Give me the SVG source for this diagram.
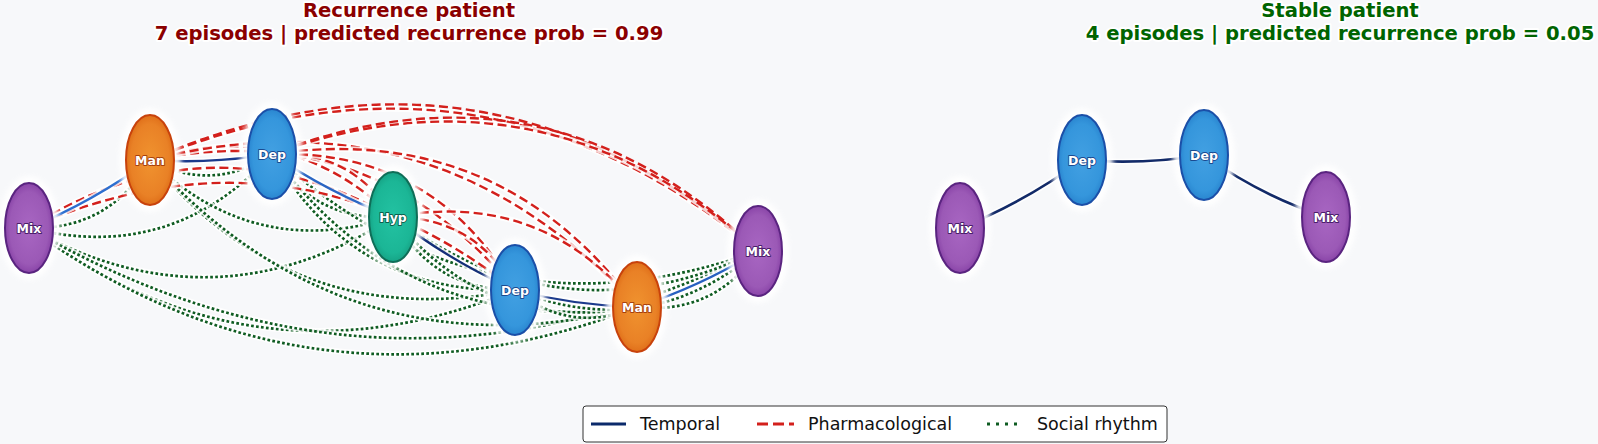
<svg xmlns="http://www.w3.org/2000/svg" xmlns:xlink="http://www.w3.org/1999/xlink" width="1598" height="444" viewBox="0 0 1598 444">
<style>
.h{fill:none;stroke:#fff;stroke-width:6;stroke-opacity:.8;stroke-linecap:round}
.t{fill:none;stroke:#1b3a8c;stroke-width:2.3}
.t2{fill:none;stroke:#122a68;stroke-width:2.6}
.p{fill:none;stroke:#d3201c;stroke-width:2.4;stroke-dasharray:9 4.5}
.s{fill:none;stroke:#0f5c22;stroke-width:2.7;stroke-dasharray:2.7 2.3}
.glow{fill:#fff;opacity:.9;filter:url(#blur)}
.lbl{font-family:"DejaVu Sans",sans-serif;font-weight:bold;font-size:12.5px;fill:#fff;text-anchor:middle;paint-order:stroke;stroke-width:1.8;stroke-linejoin:round}
.ttl{font-family:"DejaVu Sans",sans-serif;font-weight:bold;font-size:19.6px;text-anchor:middle;paint-order:stroke;stroke:#fff;stroke-width:4;stroke-linejoin:round}
.leg{font-family:"DejaVu Sans",sans-serif;font-size:17.5px;fill:#111}
</style>
<defs>
<filter id="blur" x="-30%" y="-30%" width="160%" height="160%"><feGaussianBlur stdDeviation="2.5"/></filter>
<radialGradient id="gMix" cx="50%" cy="50%" r="50%"><stop offset="0" stop-color="#a866c2"/><stop offset=".8" stop-color="#9b59b6"/><stop offset="1" stop-color="#8a45a8"/></radialGradient>
<radialGradient id="gMan" cx="50%" cy="50%" r="50%"><stop offset="0" stop-color="#f0932f"/><stop offset=".8" stop-color="#e98126"/><stop offset="1" stop-color="#e0701a"/></radialGradient>
<radialGradient id="gDep" cx="50%" cy="50%" r="50%"><stop offset="0" stop-color="#42a0e2"/><stop offset=".8" stop-color="#3596dc"/><stop offset="1" stop-color="#2a86d0"/></radialGradient>
<radialGradient id="gHyp" cx="50%" cy="50%" r="50%"><stop offset="0" stop-color="#23c2a2"/><stop offset=".8" stop-color="#1bb696"/><stop offset="1" stop-color="#16a486"/></radialGradient>
<!-- social rhythm -->
<path id="sAB" d="M29 228Q109.9 230.3 150 160"/>
<path id="sAC" d="M29 228Q172.7 263.9 272 154"/>
<path id="sAD" d="M29 228Q214.3 331.7 393 217"/>
<path id="sAE" d="M29 228Q255 396 515 290"/>
<path id="sAF" d="M29 228Q311.7 431.7 637 307"/>
<path id="sAG" d="M29 228Q387.3 436.3 758 251"/>
<path id="sBC" d="M150 160Q212.8 193.6 272 154"/>
<path id="sBD" d="M150 160Q254.4 261.4 393 217"/>
<path id="sBE" d="M150 160Q293.5 334.5 515 290"/>
<path id="sBF" d="M150 160Q349.4 379.6 637 307"/>
<path id="sCD" d="M272 154Q313.6 221.8 393 217"/>
<path id="sCE" d="M272 154Q352.7 294.9 515 290"/>
<path id="sCF" d="M272 154Q408.6 340 637 307"/>
<path id="sCG" d="M272 154Q485.9 348.3 758 251"/>
<path id="sDE" d="M393 217Q432.1 290.1 515 290"/>
<path id="sDF" d="M393 217Q488 335.2 637 307"/>
<path id="sDG" d="M393 217Q565.3 343.5 758 251"/>
<path id="sEF" d="M515 290Q570.9 335.1 637 307"/>
<path id="sEG" d="M515 290Q648.2 343.4 758 251"/>
<path id="sFG" d="M637 307Q714.3 315.3 758 251"/>
<!-- pharmacological -->
<path id="pAD" d="M29 228Q207.7 113.3 393 217"/>
<path id="pAE" d="M29 228Q290.6 113.2 515 290"/>
<path id="pBD" d="M150 160Q288.6 115.6 393 217"/>
<path id="pBE" d="M150 160Q371.5 115.5 515 290"/>
<path id="pBF" d="M150 160Q437.6 87.4 637 307"/>
<path id="pBG" d="M150 160Q481.3 23.1 758 251"/>
<path id="pBG2" d="M150 160Q482.7 14 758 251"/>
<path id="pCD" d="M272 154Q351.4 149.2 393 217"/>
<path id="pCE" d="M272 154Q434.3 149.1 515 290"/>
<path id="pCF" d="M272 154Q500.4 121 637 307"/>
<path id="pCG" d="M272 154Q544.1 56.7 758 251"/>
<path id="pCG2" d="M272 154Q545.8 48 758 251"/>
<path id="pDE" d="M393 217Q475.9 216.9 515 290"/>
<path id="pDF" d="M393 217Q542 188.8 637 307"/>
<!-- temporal -->
<path id="tAB" d="M29 228Q93.6 201.3 150 160"/>
<path id="tBC" d="M150 160Q211.4 164.3 272 154"/>
<path id="tCD" d="M272 154Q328.7 192.8 393 217"/>
<path id="tDE" d="M393 217Q449.6 260.8 515 290"/>
<path id="tEF" d="M515 290Q575 305.8 637 307"/>
<path id="tFG" d="M637 307Q700.9 286.3 758 251"/>
<path id="tR1" d="M960 228Q1025 202 1082 160"/>
<path id="tR2" d="M1082 160Q1143 165 1204 155"/>
<path id="tR3" d="M1204 155Q1261 196 1326 217"/>
</defs>
<rect width="1598" height="444" fill="#f7f8fa"/>

<g id="titles">
<text class="ttl" fill="#8b0000" x="409" y="17">Recurrence patient</text>
<text class="ttl" fill="#8b0000" x="409" y="40">7 episodes | predicted recurrence prob = 0.99</text>
<text class="ttl" fill="#006400" x="1340" y="17">Stable patient</text>
<text class="ttl" fill="#006400" x="1340" y="40">4 episodes | predicted recurrence prob = 0.05</text>
</g>

<g id="connectors">
<use href="#sAB" class="h"/><use href="#sAB" class="s"/>
<use href="#sAC" class="h"/><use href="#sAC" class="s"/>
<use href="#sAD" class="h"/><use href="#sAD" class="s"/>
<use href="#sAE" class="h"/><use href="#sAE" class="s"/>
<use href="#sAF" class="h"/><use href="#sAF" class="s"/>
<use href="#sAG" class="h"/><use href="#sAG" class="s"/>
<use href="#sBC" class="h"/><use href="#sBC" class="s"/>
<use href="#sBD" class="h"/><use href="#sBD" class="s"/>
<use href="#sBE" class="h"/><use href="#sBE" class="s"/>
<use href="#sBF" class="h"/><use href="#sBF" class="s"/>
<use href="#sCD" class="h"/><use href="#sCD" class="s"/>
<use href="#sCE" class="h"/><use href="#sCE" class="s"/>
<use href="#sCF" class="h"/><use href="#sCF" class="s"/>
<use href="#sCG" class="h"/><use href="#sCG" class="s"/>
<use href="#sDE" class="h"/><use href="#sDE" class="s"/>
<use href="#sDF" class="h"/><use href="#sDF" class="s"/>
<use href="#sDG" class="h"/><use href="#sDG" class="s"/>
<use href="#sEF" class="h"/><use href="#sEF" class="s"/>
<use href="#sEG" class="h"/><use href="#sEG" class="s"/>
<use href="#sFG" class="h"/><use href="#sFG" class="s"/>
<use href="#pAD" class="h"/><use href="#pAD" class="p"/>
<use href="#pAE" class="h"/><use href="#pAE" class="p"/>
<use href="#pBD" class="h"/><use href="#pBD" class="p"/>
<use href="#pBE" class="h"/><use href="#pBE" class="p"/>
<use href="#pBF" class="h"/><use href="#pBF" class="p"/>
<use href="#pBG" class="h"/><use href="#pBG" class="p"/>
<use href="#pBG2" class="p"/>
<use href="#pCD" class="h"/><use href="#pCD" class="p"/>
<use href="#pCE" class="h"/><use href="#pCE" class="p"/>
<use href="#pCF" class="h"/><use href="#pCF" class="p"/>
<use href="#pCG" class="h"/><use href="#pCG" class="p"/>
<use href="#pCG2" class="p"/>
<use href="#pDE" class="h"/><use href="#pDE" class="p"/>
<use href="#pDF" class="h"/><use href="#pDF" class="p"/>
<use href="#tAB" class="h"/><use href="#tAB" class="t" style="stroke:#2d6fd0"/>
<use href="#tBC" class="h"/><use href="#tBC" class="t"/>
<use href="#tCD" class="h"/><use href="#tCD" class="t" style="stroke:#2a66c4"/>
<use href="#tDE" class="h"/><use href="#tDE" class="t" style="stroke:#142f78"/>
<use href="#tEF" class="h"/><use href="#tEF" class="t"/>
<use href="#tFG" class="h"/><use href="#tFG" class="t" style="stroke:#2760c0"/>
<use href="#tR1" class="h"/><use href="#tR1" class="t2"/>
<use href="#tR2" class="h"/><use href="#tR2" class="t2"/>
<use href="#tR3" class="h"/><use href="#tR3" class="t2"/>
</g>

<g id="n-mix1"><ellipse class="glow" cx="29" cy="228" rx="31" ry="52"/><ellipse cx="29" cy="228" rx="24" ry="45" fill="url(#gMix)" stroke="#5a2480" stroke-width="2"/><text class="lbl" x="29" y="233" stroke="#4a1d6a">Mix</text></g>
<g id="n-man1"><ellipse class="glow" cx="150" cy="160" rx="31" ry="52"/><ellipse cx="150" cy="160" rx="24" ry="45" fill="url(#gMan)" stroke="#c8420c" stroke-width="2"/><text class="lbl" x="150" y="165" stroke="#a8400c">Man</text></g>
<g id="n-dep1"><ellipse class="glow" cx="272" cy="154" rx="31" ry="52"/><ellipse cx="272" cy="154" rx="24" ry="45" fill="url(#gDep)" stroke="#1b4fa8" stroke-width="2"/><text class="lbl" x="272" y="159" stroke="#1a4a90">Dep</text></g>
<g id="n-hyp"><ellipse class="glow" cx="393" cy="217" rx="31" ry="52"/><ellipse cx="393" cy="217" rx="24" ry="45" fill="url(#gHyp)" stroke="#0f6e58" stroke-width="2"/><text class="lbl" x="393" y="222" stroke="#0d5e4c">Hyp</text></g>
<g id="n-dep2"><ellipse class="glow" cx="515" cy="290" rx="31" ry="52"/><ellipse cx="515" cy="290" rx="24" ry="45" fill="url(#gDep)" stroke="#1b4fa8" stroke-width="2"/><text class="lbl" x="515" y="295" stroke="#1a4a90">Dep</text></g>
<g id="n-man2"><ellipse class="glow" cx="637" cy="307" rx="31" ry="52"/><ellipse cx="637" cy="307" rx="24" ry="45" fill="url(#gMan)" stroke="#c8420c" stroke-width="2"/><text class="lbl" x="637" y="312" stroke="#a8400c">Man</text></g>
<g id="n-mix2"><ellipse class="glow" cx="758" cy="251" rx="31" ry="52"/><ellipse cx="758" cy="251" rx="24" ry="45" fill="url(#gMix)" stroke="#5a2480" stroke-width="2"/><text class="lbl" x="758" y="256" stroke="#4a1d6a">Mix</text></g>

<g id="n-mix3"><ellipse class="glow" cx="960" cy="228" rx="31" ry="52"/><ellipse cx="960" cy="228" rx="24" ry="45" fill="url(#gMix)" stroke="#5a2480" stroke-width="2"/><text class="lbl" x="960" y="233" stroke="#4a1d6a">Mix</text></g>
<g id="n-dep3"><ellipse class="glow" cx="1082" cy="160" rx="31" ry="52"/><ellipse cx="1082" cy="160" rx="24" ry="45" fill="url(#gDep)" stroke="#1b4fa8" stroke-width="2"/><text class="lbl" x="1082" y="165" stroke="#1a4a90">Dep</text></g>
<g id="n-dep4"><ellipse class="glow" cx="1204" cy="155" rx="31" ry="52"/><ellipse cx="1204" cy="155" rx="24" ry="45" fill="url(#gDep)" stroke="#1b4fa8" stroke-width="2"/><text class="lbl" x="1204" y="160" stroke="#1a4a90">Dep</text></g>
<g id="n-mix4"><ellipse class="glow" cx="1326" cy="217" rx="31" ry="52"/><ellipse cx="1326" cy="217" rx="24" ry="45" fill="url(#gMix)" stroke="#5a2480" stroke-width="2"/><text class="lbl" x="1326" y="222" stroke="#4a1d6a">Mix</text></g>

<g id="legend">
<rect x="583" y="406" width="584" height="36" rx="3" fill="#fff" stroke="#333" stroke-width="1"/>
<line x1="591" y1="424" x2="626" y2="424" stroke="#0b2a6b" stroke-width="3"/>
<text class="leg" x="640" y="430">Temporal</text>
<line x1="757" y1="424" x2="794" y2="424" stroke="#d3201c" stroke-width="3" stroke-dasharray="11 5"/>
<text class="leg" x="808" y="430">Pharmacological</text>
<line x1="987" y1="424" x2="1022" y2="424" stroke="#0f5c22" stroke-width="3" stroke-dasharray="3 6"/>
<text class="leg" x="1037" y="430">Social rhythm</text>
</g>
</svg>
